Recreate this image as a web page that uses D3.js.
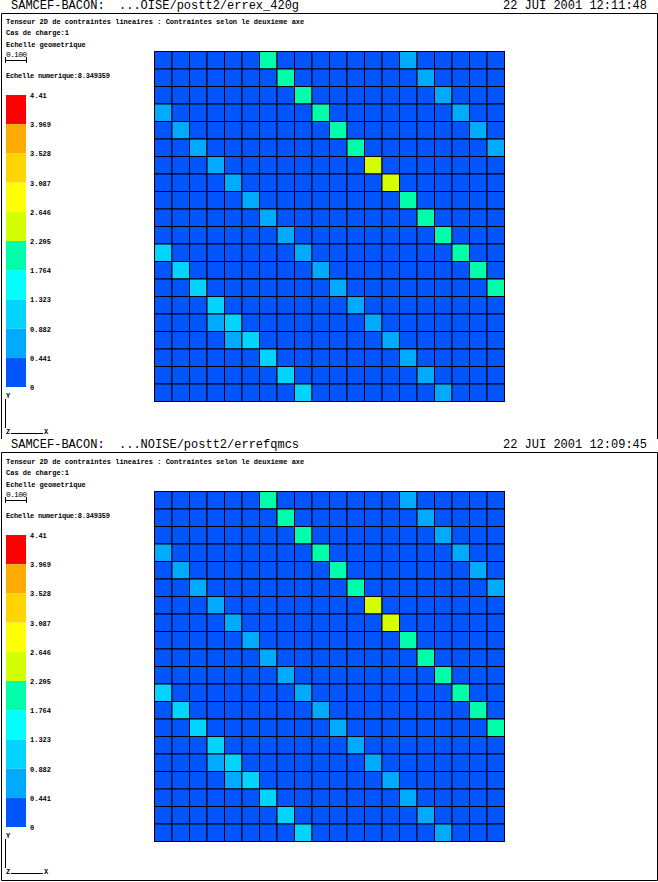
<!DOCTYPE html>
<html><head><meta charset="utf-8">
<script src="https://cdn.jsdelivr.net/npm/d3@7"></script>
<style>html,body{margin:0;padding:0;background:#fff}svg{display:block}</style>
</head><body><svg id="c" width="658" height="882"></svg>
<script>
const bandEdges = [0.441, 0.882, 1.323, 1.764, 2.205, 2.646, 3.087, 3.528, 3.969];
const bandColors = ["#0055ff","#00aaff","#00d4ff","#00ffff","#00ffaa","#d4ff00","#ffff00","#ffd400","#ffaa00","#ff0000"];
const legendLabels = ["4.41","3.969","3.528","3.087","2.646","2.205","1.764","1.323","0.882","0.441","0"];
const headers = ["SAMCEF-BACON:  ...OISE/postt2/errex_420g","SAMCEF-BACON:  ...NOISE/postt2/errefqmcs"];
const dates = ["22 JUI 2001 12:11:48","22 JUI 2001 12:09:45"];
const titleLines = ["Tenseur 2D de contraintes lineaires : Contraintes selon le deuxieme axe","Cas de charge:1","Echelle geometrique"];
const scaleLabel = "0.100";
const numericLabel = "Echelle numerique:8.349359";
// Per-row readings: [column, value] for each cell that is not in the lowest band
const raisedCells = [
 [[6,2.0],[14,0.66]],[[7,2.0],[15,0.66]],[[8,2.0],[16,0.66]],[[0,0.66],[9,2.0],[17,0.66]],
 [[1,0.66],[10,2.0],[18,0.66]],[[2,0.66],[11,2.0],[19,0.66]],[[3,0.66],[12,2.4]],[[4,0.66],[13,2.4]],
 [[5,0.66],[14,2.0]],[[6,0.66],[15,2.0]],[[7,0.66],[16,2.0]],[[0,1.1],[8,0.66],[17,2.0]],
 [[1,1.1],[9,0.66],[18,2.0]],[[2,1.1],[10,0.66],[19,2.0]],[[3,1.1],[11,0.66]],[[3,0.66],[4,1.1],[12,0.66]],
 [[4,0.66],[5,1.1],[13,0.66]],[[6,1.1],[14,0.66]],[[7,1.1],[15,0.66]],[[8,1.1],[16,0.66]]
];
const baseValue = 0.2;
const rowIds = d3.range(20), colIds = d3.range(20);

const color = d3.scaleThreshold().domain(bandEdges).range(bandColors);
const x = d3.scaleBand().domain(colIds).range([154.5,504.5]);
const y = d3.scaleBand().domain(rowIds).range([51.5,401.5]);
const legendY = d3.scaleBand().domain(legendLabels.slice(0,10)).range([95,387]);
const svg = d3.select("#c");
const mono = "'Liberation Mono', monospace";

svg.append("path").attr("d","M1.5,439V13.5H657.5V439").attr("fill","none").attr("stroke","#000");
svg.append("path").attr("d","M1.5,452.5H657.5V880.5H1.5Z").attr("fill","none").attr("stroke","#000");

[0,1].forEach(p=>{
  const head = svg.append("g").attr("transform",`translate(0,${p*439})`);
  head.append("text").attr("x",11).attr("y",9).attr("font-family",mono).attr("font-size",12)
    .style("white-space","pre").text(headers[p]);
  head.append("text").attr("x",503).attr("y",9).attr("font-family",mono).attr("font-size",12).text(dates[p]);

  const g = svg.append("g").attr("transform",`translate(0,${p*440})`);
  const small = (s,tx,ty)=>g.append("text").attr("x",tx).attr("y",ty).attr("font-family",mono)
    .attr("font-size",7).attr("font-weight","bold").text(s);
  titleLines.forEach((s,i)=>small(s,6,[24,35,47][i]));
  small(scaleLabel,6,57).attr("font-size",8).attr("font-weight","normal").attr("textLength",21);
  small(numericLabel,6,78).attr("textLength",104);
  g.append("path").attr("d","M5.5,57V63M5.5,60.5H26.5M26.5,57V63").attr("fill","none").attr("stroke","#000");

  legendLabels.slice(0,10).forEach((l,i)=>{
    g.append("rect").attr("x",6).attr("y",legendY(l)).attr("width",20).attr("height",legendY.bandwidth())
      .attr("fill",bandColors[9-i]);
  });
  legendLabels.forEach((l,i)=>{
    const ty = i<10 ? legendY(l) : 387;
    small(l,30,ty+3);
  });

  g.append("path").attr("d","M5.5,399V428M11,433.5H43").attr("fill","none").attr("stroke","#000");
  small("Y",6,398);
  small("Z",6,434);
  small("X",44,434);

  const cells = rowIds.flatMap(r=>colIds.map(c=>{
    const hit = raisedCells[r].find(e=>e[0]===c);
    return {r,c,v:hit?hit[1]:baseValue};
  }));
  g.selectAll(".cell").data(cells).join("rect").attr("class","cell")
    .attr("x",d=>x(d.c)).attr("y",d=>y(d.r)).attr("width",x.bandwidth()).attr("height",y.bandwidth())
    .attr("fill",d=>color(d.v)).attr("stroke","#000").attr("stroke-width",1);
});
</script></body></html>
